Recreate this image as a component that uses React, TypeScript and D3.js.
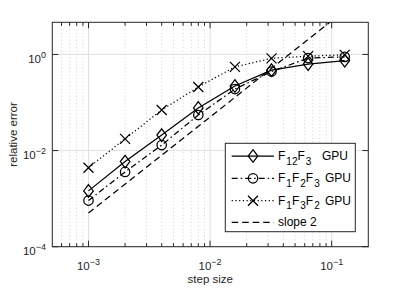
import React from "react";
import * as d3 from "d3";

const steps = [1e-3, 2e-3, 4e-3, 8e-3, 1.6e-2, 3.2e-2, 6.4e-2, 1.28e-1];
const f12f3 = [1.45e-3, 5.9e-3, 2.1e-2, 7.7e-2, 0.22, 0.47, 0.63, 0.74];
const f1f2f3 = [9.1e-4, 3.6e-3, 1.3e-2, 5.5e-2, 0.19, 0.44, 0.84, 0.89];
const f1f3f2 = [4.4e-3, 1.75e-2, 7.0e-2, 0.21, 0.55, 0.83, 0.92, 0.98];
const slopeX = [1e-3, 1e-1];
const slopeY = [5e-4, 5];
const xTickExps = [-3, -2, -1];
const yTickExps = [-4, -2, 0];
const legendLabels = [
  [["F", ""], ["12", "sub"], ["F", ""], ["3", "sub"], ["GPU", "gpu"]],
  [["F", ""], ["1", "sub"], ["F", ""], ["2", "sub"], ["F", ""], ["3", "sub"], ["GPU", "gpu"]],
  [["F", ""], ["1", "sub"], ["F", ""], ["3", "sub"], ["F", ""], ["2", "sub"], ["GPU", "gpu"]],
  [["slope 2", ""]],
];

const W = 407, H = 291;
const L = 52.3, R = 368.3, T = 22.3, B = 246.7;
const FONT = "'Liberation Sans', Arial, Helvetica, sans-serif";
const AX = "#262626";
const LW = 1.25;

function Marker({ type, x, y }: { type: string; x: number; y: number }) {
  if (type === "diamond")
    return <path d={`M${x},${y - 6.3}L${x + 4.8},${y}L${x},${y + 6.3}L${x - 4.8},${y}Z`} fill="none" stroke="#000" strokeWidth={LW} />;
  if (type === "circle") return <circle cx={x} cy={y} r={4.7} fill="none" stroke="#000" strokeWidth={LW} />;
  return <path d={`M${x - 5},${y - 5}L${x + 5},${y + 5}M${x - 5},${y + 5}L${x + 5},${y - 5}`} stroke="#000" strokeWidth={LW} />;
}

function expLabel(e: number) {
  return e < 0 ? "\u2212" + -e : String(e);
}

export default function App() {
  const x = d3.scaleLog().domain([5.04e-4, 0.2]).range([L, R]);
  const y = d3.scaleLog().domain([1e-4, 4.66]).range([B, T]);
  const line = d3.line<[number, number]>().x((d) => x(d[0])).y((d) => y(d[1]));

  const series = [
    { vals: f12f3, marker: "diamond", dash: "none" },
    { vals: f1f2f3, marker: "circle", dash: "6,3,1.5,3" },
    { vals: f1f3f2, marker: "x", dash: "1.2,2.5" },
  ];

  const minorX: number[] = [];
  for (let e = -4; e <= -1; e++) for (let m = 2; m <= 9; m++) {
    const v = m * Math.pow(10, e);
    if (v > 5.04e-4 && v < 0.2) minorX.push(v);
  }

  const legendY = [156, 178.3, 200.7, 222.3];
  const gpuX = [322, 325, 325, 0];
  const legendStyles = [
    { marker: "diamond", dash: "none" },
    { marker: "circle", dash: "6,3,1.5,3" },
    { marker: "x", dash: "1.2,2.5" },
    { marker: "", dash: "6.5,4" },
  ];

  return (
    <svg width={W} height={H} style={{ display: "block", position: "absolute", left: 0, top: 0 }} fontFamily={FONT}>
      <defs>
        <clipPath id="plotclip">
          <rect x={L} y={T} width={R - L} height={B - T} />
        </clipPath>
      </defs>
      <rect x={0} y={0} width={W} height={H} fill="#fff" />
      {minorX.map((v, i) => (
        <line key={"mg" + i} x1={x(v)} x2={x(v)} y1={T} y2={B} stroke="#bdbdbd" strokeWidth={0.7} strokeDasharray="1,2.5" />
      ))}
      {xTickExps.map((e) => (
        <line key={"gx" + e} x1={x(Math.pow(10, e))} x2={x(Math.pow(10, e))} y1={T} y2={B} stroke="#e0e0e0" strokeWidth={1} />
      ))}
      {yTickExps.map((e) => (
        <line key={"gy" + e} x1={L} x2={R} y1={y(Math.pow(10, e))} y2={y(Math.pow(10, e))} stroke="#e0e0e0" strokeWidth={1} />
      ))}
      <g clipPath="url(#plotclip)">
        <path d={line(slopeX.map((v, i) => [v, slopeY[i]] as [number, number])) || ""} fill="none" stroke="#000" strokeWidth={LW} strokeDasharray="6.5,4" />
        {series.map((s, si) => (
          <path key={"s" + si} d={line(steps.map((v, i) => [v, s.vals[i]] as [number, number])) || ""} fill="none" stroke="#000" strokeWidth={LW} strokeDasharray={s.dash} />
        ))}
        {series.map((s, si) =>
          steps.map((v, i) => <Marker key={"m" + si + "_" + i} type={s.marker} x={x(v)} y={y(s.vals[i])} />)
        )}
      </g>
      {xTickExps.map((e) => {
        const px = x(Math.pow(10, e));
        return (
          <g key={"tx" + e}>
            <line x1={px} x2={px} y1={B} y2={B - 6} stroke={AX} />
            <line x1={px} x2={px} y1={T} y2={T + 6} stroke={AX} />
          </g>
        );
      })}
      {minorX.map((v, i) => (
        <g key={"mt" + i}>
          <line x1={x(v)} x2={x(v)} y1={B} y2={B - 3.5} stroke={AX} />
          <line x1={x(v)} x2={x(v)} y1={T} y2={T + 3.5} stroke={AX} />
        </g>
      ))}
      {yTickExps.map((e) => {
        const py = y(Math.pow(10, e));
        return (
          <g key={"ty" + e}>
            <line x1={L} x2={L + 6} y1={py} y2={py} stroke={AX} />
            <line x1={R} x2={R - 6} y1={py} y2={py} stroke={AX} />
          </g>
        );
      })}
      <rect x={L} y={T} width={R - L} height={B - T} fill="none" stroke={AX} strokeWidth={1} />
      {xTickExps.map((e) => (
        <text key={"lx" + e} x={x(Math.pow(10, e))} y={270} fontSize={11.5} fill={AX} textAnchor="middle">
          10<tspan fontSize={9} dy={-5}>{expLabel(e)}</tspan>
        </text>
      ))}
      {yTickExps.map((e) => (
        <text key={"ly" + e} x={46} y={y(Math.pow(10, e)) + 8.5} fontSize={11.5} fill={AX} textAnchor="end">
          10<tspan fontSize={9} dy={-5}>{expLabel(e)}</tspan>
        </text>
      ))}
      <text x={(L + R) / 2} y={283} fontSize={11.5} fill={AX} textAnchor="middle">step size</text>
      <text transform={`translate(17,${(T + B) / 2}) rotate(-90)`} fontSize={11.5} fill={AX} textAnchor="middle">relative error</text>
      <rect x={225.3} y={143.3} width={130} height={88.4} fill="#fff" stroke={AX} strokeWidth={1} />
      {legendStyles.map((s, i) => (
        <g key={"lg" + i}>
          <line x1={231.7} x2={274} y1={legendY[i]} y2={legendY[i]} stroke="#000" strokeWidth={LW} strokeDasharray={s.dash} />
          {s.marker && <Marker type={s.marker} x={253} y={legendY[i]} />}
          <text x={278} y={legendY[i] + 4} fontSize={12} fill="#000">
            {legendLabels[i].map((p, j) => {
              const prev = j > 0 ? legendLabels[i][j - 1][1] : "";
              const dy = p[1] === "sub" ? (prev === "sub" ? 0 : 4.5) : prev === "sub" ? -4.5 : 0;
              return (
                <tspan
                  key={j}
                  fontSize={p[1] === "sub" ? 10 : 12}
                  dy={dy}
                  dx={p[1] === "sub" ? 1 : undefined}
                  x={p[1] === "gpu" ? gpuX[i] : undefined}
                >
                  {p[0]}
                </tspan>
              );
            })}
          </text>
        </g>
      ))}
    </svg>
  );
}
